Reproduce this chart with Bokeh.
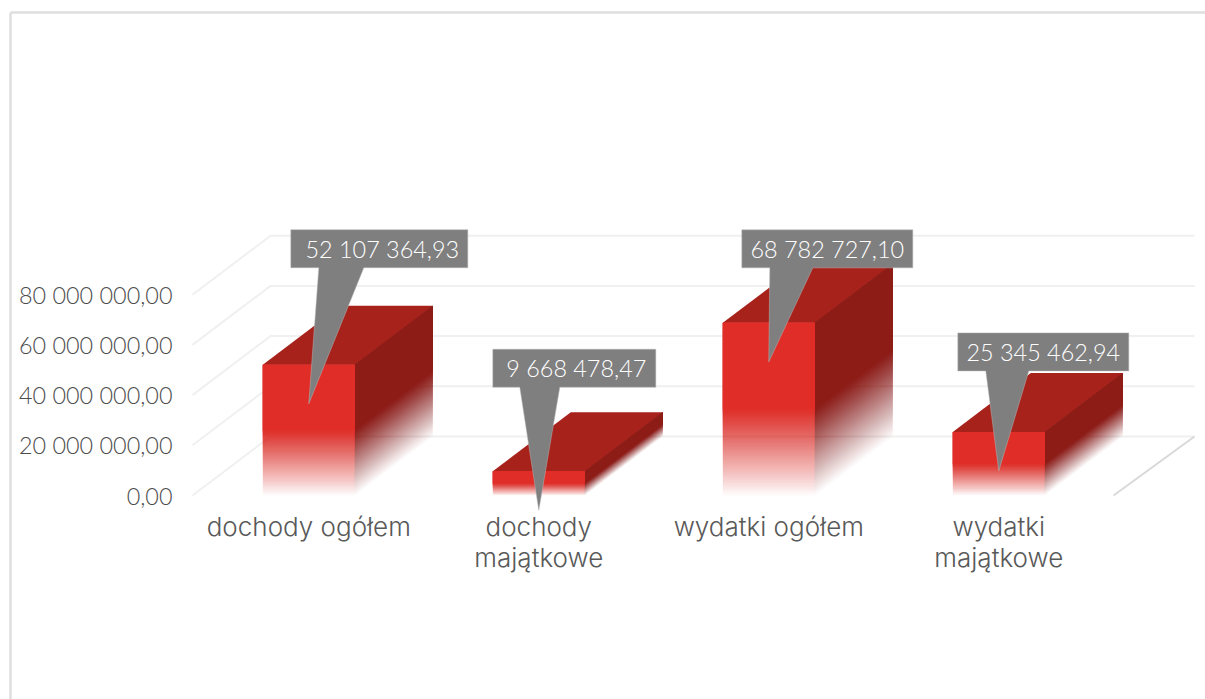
from bokeh.plotting import figure
from bokeh.models import Range1d, LinearAxis, FixedTicker
from bokeh.core.properties import value
from bokeh.embed import file_html
from bokeh.resources import INLINE

# ---- data ----
categories = ["dochody ogółem", "dochody\nmajątkowe", "wydatki ogółem", "wydatki\nmajątkowe"]
values = [52107364.93, 9668478.47, 68782727.10, 25345462.94]
value_labels = ["52 107 364,93", "9 668 478,47", "68 782 727,10", "25 345 462,94"]
y_ticks = [0, 20000000, 40000000, 60000000, 80000000]
y_tick_labels = ["0,00", "20 000 000,00", "40 000 000,00", "60 000 000,00", "80 000 000,00"]

# ---- layout (page pixels) ----
W, H = 1205, 699
PAGE_X, PAGE_Y = 0, 0
PX_PER_CAT = 230.0
PX_PER_VAL = 2.51 / 1e6
ORIGIN_X, ORIGIN_Y = 308.3, 495.0
DEPTH_X, DEPTH_Y = 78.0, 59.0
BAR_W = 92.0

def dx(px): return px / PX_PER_CAT
def dy(px): return px / PX_PER_VAL
def X(page): return (page - ORIGIN_X) / PX_PER_CAT
def Y(page): return (ORIGIN_Y - page) / PX_PER_VAL

p = figure(width=W, height=H, output_backend="svg", toolbar_location=None,
           x_range=Range1d(X(PAGE_X), X(PAGE_X + W)), y_range=Range1d(Y(PAGE_Y + H), Y(PAGE_Y)),
           min_border=0, x_axis_type=None, y_axis_type=None)
p.outline_line_color = None
p.background_fill_color = "white"
p.border_fill_color = "white"

# chart border
p.segment([X(10), X(10)], [Y(12), Y(12)], [X(1205), X(10)], [Y(12), Y(699)],
          line_color="#dedede", line_width=2.5)

# walls and floor
GRID = "#f0f0f0"
x_front, x_back, x_end = X(192), X(192) + dx(DEPTH_X), X(1194)
for i, t in enumerate(y_ticks):
    p.line([x_front, x_back, x_end], [t, t + dy(DEPTH_Y), t + dy(DEPTH_Y)],
           line_color=GRID, line_width=2)
p.line([X(1113), X(1113) + dx(DEPTH_X + 3)], [0, dy(DEPTH_Y)], line_color="#d9d9d9", line_width=2)

FRONT, TOP, SIDE = "#e12d27", "#a8221c", "#8d1b16"
LAYERS = 40
for i, v in enumerate(values):
    l, r = i - dx(BAR_W / 2), i + dx(BAR_W / 2)
    ddx, ddy = dx(DEPTH_X), dy(DEPTH_Y)
    p.patch([l, r, r + ddx, l + ddx], [v, v, v + ddy, v + ddy], fill_color=TOP, line_color=None)
    fxs, fys, sxs, sys, alphas = [], [], [], [], []
    for k in range(1, LAYERS + 1):
        low = v * 0.5 * (k - 1) / (LAYERS - 1)     # gradient: white at 0, solid from half height
        fxs.append([l, r, r, l]); fys.append([low, low, v, v])
        sxs.append([r, r + ddx, r + ddx, r]); sys.append([low, low + ddy, v + ddy, v])
        alphas.append(1.0 / (LAYERS - k + 1))
    p.patches(sxs, sys, fill_color=SIDE, fill_alpha=alphas, line_color=None)
    p.patches(fxs, fys, fill_color=FRONT, fill_alpha=alphas, line_color=None)

# callouts
box_left = [-18, -46, -27, -41]
box_right = [159, 117, 144, 130]
box_rise = [135, 122, 93, 99]
base_left = [10, -19, 1, -13]
base_right = [55, 21, 44, 30]
text_shift = [3, 2, 0, 0]
BOX_H, TIP_DROP = 38, 39
cx, cy, cs, cy2 = [], [], [], []
for i, v in enumerate(values):
    top = v + dy(box_rise[i])
    bot = top - dy(BOX_H)
    a, b = i + dx(box_left[i]), i + dx(box_right[i])
    c, d = i + dx(base_left[i]), i + dx(base_right[i])
    cx.append([a, b, b, d, i, c, a])
    cy.append([top, top, bot, bot, v - dy(TIP_DROP), bot, bot])
    cs.append((a + b) / 2 + dx(text_shift[i]))
    cy2.append((top + bot) / 2)
p.patches(cx, cy, fill_color="#7f7f7f", line_color="#b5b5b5", line_width=0.5)
p.text(cs, cy2, text=value_labels, text_color="#ffffff", text_font=value("Lato Light"),
       text_font_size="23.4px", text_align="center", text_baseline="middle")

# axes
ya = LinearAxis(fixed_location=X(192), ticker=FixedTicker(ticks=y_ticks),
                major_label_overrides=dict(zip(y_ticks, y_tick_labels)),
                major_label_text_font="Lato Light", major_label_text_font_size="23.4px",
                major_label_text_color="#4d4d4d", major_label_standoff=14,
                axis_line_color=None, major_tick_line_color=None, minor_tick_line_color=None)
p.add_layout(ya, "left")
xa = LinearAxis(fixed_location=0, ticker=FixedTicker(ticks=list(range(len(categories)))),
                major_label_overrides=dict(enumerate(categories)),
                major_label_text_font="Inter Light", major_label_text_font_size="26px",
                major_label_text_line_height=1.0,
                major_label_text_color="#595959", major_label_standoff=9,
                axis_line_color=None, major_tick_line_color=None, minor_tick_line_color=None)
p.add_layout(xa, "below")

open("out.html", "w").write(file_html(p, INLINE))
